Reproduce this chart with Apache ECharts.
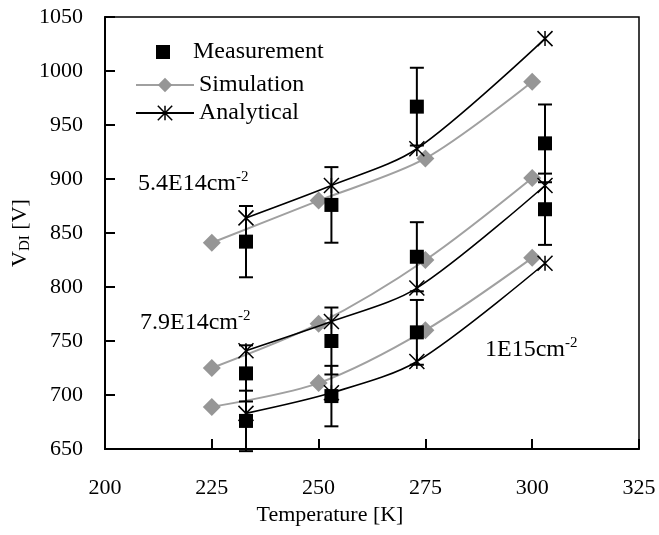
<!DOCTYPE html>
<html>
<head>
<meta charset="utf-8">
<script src="https://cdn.jsdelivr.net/npm/echarts@6/dist/echarts.min.js"></script>
<style>
    html, body { margin: 0; padding: 0; background: #fff; }
    #chart { width: 659px; height: 535px; }
</style>
</head>
<body>
<div id="chart"></div>
<script>
    // temperatures [K]
    var simTemps = [225, 250, 275, 300];
    var anaTemps = [233, 253, 273, 303];
    var measTemps = [233, 253, 273, 303];

    // simulation V_DI [V]
    var sim54 = [841, 880, 919, 990];
    var sim79 = [725, 766, 825, 901];
    var sim10 = [689, 711, 760, 827];

    // analytical V_DI [V]
    var ana54 = [864, 894, 928, 1030];
    var ana79 = [741, 768, 799, 894];
    var ana10 = [683, 702, 731, 822];

    // measurement V_DI [V] and error (+/-)
    var meas54 = [842, 876, 967, 933];
    var err54 = [33, 35, 36, 36];
    var meas79 = [720, 750, 828, 872];
    var err79 = [26, 31, 32, 33];
    var meas10 = [676, 699, 758];
    var err10 = [28, 28, 30];

    var xTicks = [200, 225, 250, 275, 300, 325];
    var yTicks = [650, 700, 750, 800, 850, 900, 950, 1000, 1050];

    var fontFam = '"Liberation Serif", "Times New Roman", serif';
    var starPath = 'path://M0,0L10,10M10,0L0,10M5,0L5,10';

    function pairs(xs, ys) {
        return ys.map(function (v, i) { return [xs[i], v]; });
    }
    function triples(xs, ys, es) {
        return ys.map(function (v, i) { return [xs[i], v, es[i]]; });
    }
    function plain(v) {
        return String(v);
    }

    function errorBar(params, api) {
        var x = api.value(0), y = api.value(1), e = api.value(2);
        var hi = api.coord([x, y + e]);
        var lo = api.coord([x, y - e]);
        var w = 7;
        var st = { stroke: '#000', lineWidth: 2 };
        return {
            type: 'group',
            children: [
                { type: 'line', shape: { x1: hi[0], y1: hi[1], x2: lo[0], y2: lo[1] }, style: st },
                { type: 'line', shape: { x1: hi[0] - w, y1: hi[1], x2: hi[0] + w, y2: hi[1] }, style: st },
                { type: 'line', shape: { x1: lo[0] - w, y1: lo[1], x2: lo[0] + w, y2: lo[1] }, style: st }
            ]
        };
    }

    function simSeries(data) {
        return {
            name: 'Simulation',
            type: 'line',
            smooth: 0.3,
            data: data,
            symbol: 'diamond',
            symbolSize: 18,
            itemStyle: { color: '#969696' },
            lineStyle: { color: '#a0a0a0', width: 2 },
            z: 3
        };
    }
    function anaSeries(data) {
        return {
            name: 'Analytical',
            type: 'line',
            smooth: 0.3,
            data: data,
            symbol: starPath,
            symbolSize: 15,
            itemStyle: { color: '#000', borderColor: '#000', borderWidth: 1.5 },
            lineStyle: { color: '#000', width: 1.6 },
            z: 4
        };
    }
    function measSeries(data) {
        return {
            name: 'Measurement',
            type: 'scatter',
            data: data,
            symbol: 'rect',
            symbolSize: 14,
            itemStyle: { color: '#000', opacity: 1 },
            z: 5
        };
    }
    function errSeries(data) {
        return {
            type: 'custom',
            renderItem: errorBar,
            data: data,
            encode: { x: 0, y: 1 },
            z: 5,
            silent: true
        };
    }

    var myChart = echarts.init(document.getElementById('chart'));
    var labelRich = {
        a: { fontFamily: fontFam, fontSize: 24, color: '#000', lineHeight: 28 },
        s: { fontFamily: fontFam, fontSize: 15, color: '#000', verticalAlign: 'top', lineHeight: 15 }
    };
    var option = {
        animation: false,
        backgroundColor: '#fff',
        grid: {
            left: 105, right: 20, top: 17, bottom: 86,
            containLabel: false,
            outerBoundsMode: 'none',
            show: true, borderColor: '#000', borderWidth: 1.5
        },
        legend: [{
            data: ['Measurement'],
            orient: 'vertical',
            left: 151, top: 35,
            itemWidth: 14, itemHeight: 14,
            textStyle: { fontFamily: fontFam, fontSize: 24, color: '#000', lineHeight: 24, padding: [0, 0, 0, 18] }
        }, {
            data: [
                'Simulation',
                { name: 'Analytical', itemStyle: { borderColor: '#000', borderWidth: 1.5 } }
            ],
            orient: 'vertical',
            left: 130, top: 68,
            itemWidth: 58, itemHeight: 18, itemGap: 4,
            textStyle: { fontFamily: fontFam, fontSize: 24, color: '#000', lineHeight: 24 }
        }],
        xAxis: {
            type: 'value',
            min: xTicks[0], max: xTicks[xTicks.length - 1], interval: 25,
            name: 'Temperature [K]',
            nameLocation: 'middle',
            nameGap: 54,
            nameTextStyle: { fontFamily: fontFam, fontSize: 22, color: '#000', padding: [0, 84, 0, 0] },
            axisLine: { lineStyle: { color: '#000', width: 2 } },
            axisTick: { inside: true, length: 10, lineStyle: { color: '#000', width: 2 } },
            axisLabel: { fontFamily: fontFam, fontSize: 22, color: '#000', margin: 28, formatter: plain },
            splitLine: { show: false }
        },
        yAxis: {
            type: 'value',
            min: yTicks[0], max: yTicks[yTicks.length - 1], interval: 50,
            name: '{a|V}{s|DI}{a| [V]}',
            nameLocation: 'middle',
            nameGap: 72,
            nameMoveOverlap: false,
            nameTextStyle: {
                rich: {
                    a: { fontFamily: fontFam, fontSize: 22, color: '#000', lineHeight: 26 },
                    s: { fontFamily: fontFam, fontSize: 15, color: '#000', verticalAlign: 'bottom', lineHeight: 20 }
                }
            },
            axisLine: { lineStyle: { color: '#000', width: 2 } },
            axisTick: { inside: true, length: 10, lineStyle: { color: '#000', width: 2 } },
            axisLabel: { fontFamily: fontFam, fontSize: 22, color: '#000', margin: 22, formatter: plain },
            splitLine: { show: false }
        },
        graphic: [
            { type: 'text', left: 138, top: 170, style: { text: '{a|5.4E14cm}{s|-2}', rich: labelRich } },
            { type: 'text', left: 140, top: 309, style: { text: '{a|7.9E14cm}{s|-2}', rich: labelRich } },
            { type: 'text', left: 485, top: 336, style: { text: '{a|1E15cm}{s|-2}', rich: labelRich } }
        ],
        series: [
            simSeries(pairs(simTemps, sim54)),
            simSeries(pairs(simTemps, sim79)),
            simSeries(pairs(simTemps, sim10)),
            anaSeries(pairs(anaTemps, ana54)),
            anaSeries(pairs(anaTemps, ana79)),
            anaSeries(pairs(anaTemps, ana10)),
            errSeries(triples(measTemps, meas54, err54)),
            errSeries(triples(measTemps, meas79, err79)),
            errSeries(triples(measTemps, meas10, err10)),
            measSeries(pairs(measTemps, meas54)),
            measSeries(pairs(measTemps, meas79)),
            measSeries(pairs(measTemps, meas10))
        ]
    };
    myChart.setOption(option, true);
</script>
</body>
</html>
